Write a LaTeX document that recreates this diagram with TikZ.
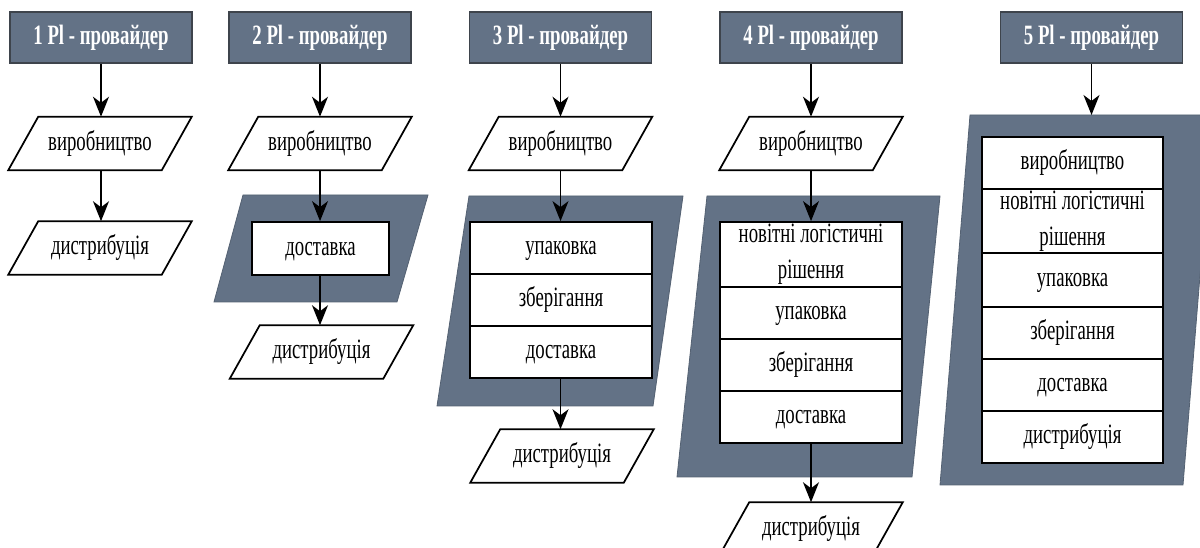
\documentclass[tikz,border=0pt]{standalone}
\usepackage{fontspec}
\setmainfont{Liberation Serif}[FakeStretch=0.67]
\usetikzlibrary{arrows.meta,calc}
\newdimen\pxu \pxu=0.75pt
\definecolor{slate}{RGB}{99,114,134}
\definecolor{hdrline}{RGB}{62,68,76}

% slanted (data) box: name, x, y, label
\newcommand\slantbox[4]{%
  \node[paratext] (#1) at (#2,#3) {#4};
  \draw[parabox] (#1.south west) -- ($(#1.south east)+(-30,0)$) -- (#1.north east)
    -- ($(#1.north west)+(30,0)$) -- cycle;}

\begin{document}
\begin{tikzpicture}[x=0.75pt,y=-0.75pt,
  every node/.style={font=\fontsize{21}{27}\selectfont, inner sep=0pt},
  oneline/.style={text height=12pt, text depth=1.5pt},
  hdr/.style={oneline, draw=hdrline, fill=slate, line width=1.3pt, minimum width=182\pxu,
    minimum height=51\pxu, text=white, font=\fontsize{21}{27}\selectfont\bfseries},
  paratext/.style={oneline, minimum width=183\pxu, minimum height=53\pxu},
  parabox/.style={draw=black, line width=1.3pt, line join=miter},
  band/.style={fill=slate, draw=slate!85!black, line width=0.6pt},
  cell/.style={draw=black, fill=white, line width=1.3pt, minimum width=182\pxu, align=center},
  flow/.style={draw=black, line width=1.1pt, -{Stealth[length=15pt,width=12pt,inset=4.5pt]}},
]
\path[use as bounding box, clip] (0,0) rectangle (1200,548);

% ---------- shaded groups ----------
\draw[band] (243,195) -- (428,195) -- (397,302) -- (214,302) -- cycle;
\draw[band] (469,196) -- (683,196) -- (653,406) -- (437,406) -- cycle;
\draw[band] (707,196) -- (940,196) -- (912,477) -- (677,477) -- cycle;
\draw[band] (970,115) -- (1213,115) -- (1183,485) -- (940,485) -- cycle;

% ---------- headers ----------
\node[hdr] (h1) at (101,37.5)    {1 Pl - провайдер};
\node[hdr] (h2) at (320,37.5)    {2 Pl - провайдер};
\node[hdr] (h3) at (560.5,37.5)  {3 Pl - провайдер};
\node[hdr] (h4) at (811,37.5)    {4 Pl - провайдер};
\node[hdr] (h5) at (1091.5,37.5) {5 Pl - провайдер};

% ---------- column 1 ----------
\slantbox{p1a}{100}{143.5}{виробництво}
\slantbox{p1b}{100}{248}{дистрибуція}

% ---------- column 2 ----------
\slantbox{p2a}{320}{143.5}{виробництво}
\node[cell, oneline, minimum width=137\pxu, minimum height=53\pxu] (s2a) at (320.5,248.5) {доставка};
\slantbox{p2b}{321.5}{352}{дистрибуція}

% ---------- column 3 ----------
\slantbox{p3a}{560.5}{143.5}{виробництво}
\node[cell, oneline, minimum height=52\pxu] (s3a) at (561,248) {упаковка};
\node[cell, oneline, minimum height=52\pxu] (s3b) at (561,300) {зберігання};
\node[cell, oneline, minimum height=52\pxu] (s3c) at (561,352) {доставка};
\slantbox{p3b}{562}{456}{дистрибуція}

% ---------- column 4 ----------
\slantbox{p4a}{811}{143.5}{виробництво}
\node[cell, minimum height=65\pxu] (s4a) at (811,254.5) {новітні логістичні\\рішення};
\node[cell, oneline, minimum height=52\pxu] (s4b) at (811,313) {упаковка};
\node[cell, oneline, minimum height=52\pxu] (s4c) at (811,365) {зберігання};
\node[cell, oneline, minimum height=52\pxu] (s4d) at (811,417) {доставка};
\slantbox{p4b}{811}{529}{дистрибуція}

% ---------- column 5 ----------
\node[cell, oneline, minimum width=181\pxu, minimum height=52\pxu] (s5a) at (1072.5,163) {виробництво};
\node[cell, minimum width=181\pxu, minimum height=64\pxu] (s5b) at (1072.5,221) {новітні логістичні\\рішення};
\node[cell, oneline, minimum width=181\pxu, minimum height=54\pxu] (s5c) at (1072.5,280) {упаковка};
\node[cell, oneline, minimum width=181\pxu, minimum height=52\pxu] (s5d) at (1072.5,333) {зберігання};
\node[cell, oneline, minimum width=181\pxu, minimum height=52\pxu] (s5e) at (1072.5,385) {доставка};
\node[cell, oneline, minimum width=181\pxu, minimum height=52\pxu] (s5f) at (1072.5,437) {дистрибуція};
\coordinate (g5) at (1091.5,115);

% ---------- flow arrows ----------
\draw[flow] (h1.south) -- (h1.south |- p1a.north);
\draw[flow] (h1.south |- p1a.south) -- (h1.south |- p1b.north);
\draw[flow] (h2.south) -- (h2.south |- p2a.north);
\draw[flow] (h2.south |- p2a.south) -- (h2.south |- s2a.north);
\draw[flow] (h2.south |- s2a.south) -- (h2.south |- p2b.north);
\draw[flow] (h3.south) -- (h3.south |- p3a.north);
\draw[flow] (h3.south |- p3a.south) -- (h3.south |- s3a.north);
\draw[flow] (h3.south |- s3c.south) -- (h3.south |- p3b.north);
\draw[flow] (h4.south) -- (h4.south |- p4a.north);
\draw[flow] (h4.south |- p4a.south) -- (h4.south |- s4a.north);
\draw[flow] (h4.south |- s4d.south) -- (h4.south |- p4b.north);
\draw[flow] (h5.south) -- (g5);
\end{tikzpicture}
\end{document}
